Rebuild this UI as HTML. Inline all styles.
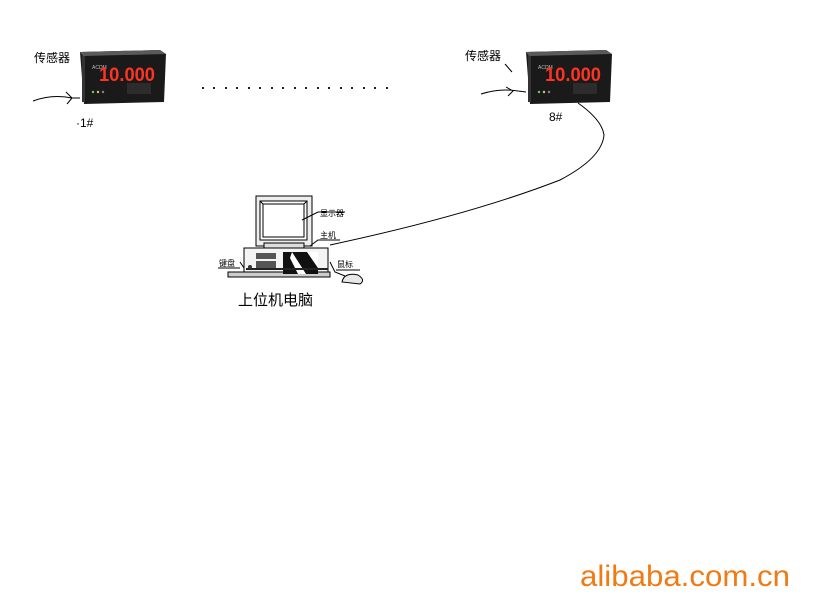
<!DOCTYPE html>
<html><head><meta charset="utf-8"><style>
html,body{margin:0;padding:0;background:#fff;}
svg{display:block}
</style></head><body>
<svg width="820" height="615" viewBox="0 0 820 615" xmlns="http://www.w3.org/2000/svg" font-family="Liberation Sans, Noto Sans CJK SC, sans-serif">
<rect width="820" height="615" fill="#fff"/>
<defs>
<g id="meter">
  <path d="M0,2 L80,0 L86,4 L84,52 L4,54 Z" fill="#1a1a1a"/>
  <path d="M0,2 L80,0 L86,4 L3,6 Z" fill="#5a5a5a"/>
  <rect x="2" y="6" width="3" height="46" fill="#333"/>
  <text x="12" y="19" font-size="5" fill="#bbb">ACDM</text>
  <text x="19" y="31" font-size="19" font-weight="bold" fill="#ff3322" font-family="Liberation Sans Narrow, Liberation Sans, sans-serif" textLength="56" lengthAdjust="spacingAndGlyphs">10.000</text>
  <rect x="47" y="33" width="24" height="11" fill="#2c2c2c"/>
  <circle cx="13" cy="42" r="1.2" fill="#6c6"/><circle cx="18" cy="42" r="1.2" fill="#cc6"/><circle cx="23" cy="42" r="1.2" fill="#888"/>
</g>
</defs>
<use href="#meter" x="80" y="50"/>
<text x="34" y="62" font-size="12" fill="#000">传感器</text>
<path d="M33,101 Q52,94 72,98 L80,98 M66,92 L72,98 L67,104" stroke="#000" fill="none" stroke-width="1"/>
<text x="76" y="127" font-size="12" fill="#000">·1#</text>
<g fill="#222">
<rect x="202" y="87" width="2" height="2"/><rect x="213" y="87" width="2" height="2"/><rect x="225" y="87" width="2" height="2"/><rect x="236" y="87" width="2" height="2"/><rect x="248" y="87" width="2" height="2"/><rect x="259" y="87" width="2" height="2"/><rect x="271" y="87" width="2" height="2"/><rect x="282" y="87" width="2" height="2"/><rect x="294" y="87" width="2" height="2"/><rect x="305" y="87" width="2" height="2"/><rect x="317" y="87" width="2" height="2"/><rect x="328" y="87" width="2" height="2"/><rect x="340" y="87" width="2" height="2"/><rect x="351" y="87" width="2" height="2"/><rect x="363" y="87" width="2" height="2"/><rect x="374" y="87" width="2" height="2"/><rect x="386" y="87" width="2" height="2"/>
</g>
<use href="#meter" x="526" y="50"/>
<text x="465" y="60" font-size="12" fill="#000">传感器</text>
<path d="M481,94 Q500,88 518,91 L526,92 M506,87 L513,91 L508,96 M505,64 L512,72" stroke="#000" fill="none" stroke-width="1"/>
<text x="549" y="121" font-size="12" fill="#000">8#</text>
<path d="M578,103 Q602,120 604,135 Q602,158 560,180 Q470,215 330,245" stroke="#000" fill="none" stroke-width="1"/>
<g stroke="#000" fill="none" stroke-width="1">
  <rect x="256" y="196" width="56" height="50" fill="#eee"/>
  <rect x="260" y="201" width="47" height="39" fill="#fff"/>
  <path d="M260,201 L263,204 L304,204 L307,201 M263,204 L263,237 L304,237 L304,204"/>
  <rect x="264" y="243" width="40" height="5" fill="#ddd"/>
  <rect x="244" y="248" width="84" height="25" fill="#f4f4f4"/>
  <rect x="228" y="272" width="102" height="5" fill="#ccc"/>
  <path d="M302,220 L318,212 L345,212"/>
  <path d="M310,246 L318,240 L340,240"/>
  <path d="M240,262 L244,268 M218,268 L240,268"/>
  <path d="M330,262 L335,272 L345,276 M336,270 L360,270"/>
  <path d="M342,282 Q344,272 358,275 Q366,280 360,284 Z" fill="#e8e8e8"/>
</g>
<rect x="256" y="253" width="20" height="6" fill="#555"/><rect x="256" y="261" width="20" height="7" fill="#555"/>
<path d="M283,252 L318,252 L318,274 L283,274 Z" fill="#111"/>
<path d="M292,252 L306,274 L298,274 L290,258 Z M307,252 L318,268 L318,252 Z" fill="#fff"/>
<rect x="246" y="268" width="82" height="2" fill="#222"/>
<circle cx="250" cy="267" r="2" fill="#333"/>
<text x="320" y="216" font-size="8" fill="#000">显示器</text>
<text x="320" y="238" font-size="8" fill="#000">主机</text>
<text x="219" y="266" font-size="8" fill="#000">键盘</text>
<text x="337" y="267" font-size="8" fill="#000">鼠标</text>
<text x="238" y="305" font-size="15" fill="#000">上位机电脑</text>
<text x="580" y="586" font-size="30" fill="#f07a14" textLength="210" lengthAdjust="spacingAndGlyphs">alibaba.com.cn</text>
</svg>
</body></html>
